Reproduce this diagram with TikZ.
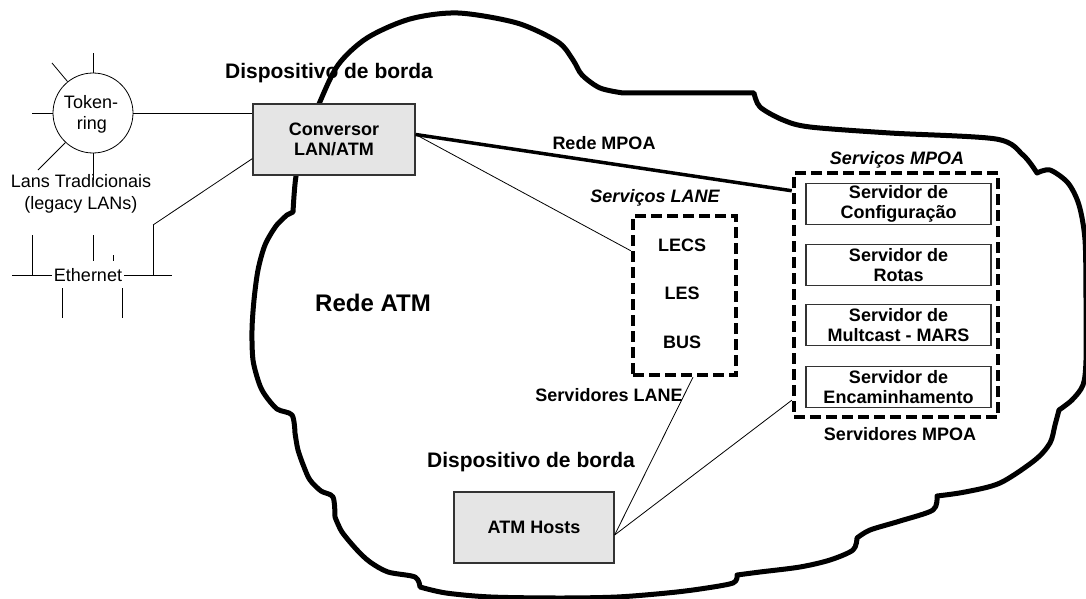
\documentclass[tikz,border=0pt]{standalone}
\usepackage{fontspec}
\setmainfont{Liberation Sans}
\usetikzlibrary{calc}
\begin{document}
\begin{tikzpicture}[x=1pt,y=-1pt,
  txt/.style={font=\fontsize{18}{22}\selectfont, inner sep=0pt, align=center},
  btxt/.style={font=\bfseries\fontsize{18}{20}\selectfont, inner sep=0pt, align=center},
  itxt/.style={font=\bfseries\itshape\fontsize{18}{20}\selectfont, inner sep=0pt},
  bigtxt/.style={font=\bfseries\fontsize{21}{24}\selectfont, inner sep=0pt},
  graybox/.style={draw=black!80, fill=black!10, line width=1.2pt, inner sep=0pt,
    font=\bfseries\fontsize{18}{20}\selectfont, align=center},
  srvbox/.style={draw=black!80, fill=white, line width=1.2pt, inner sep=0pt,
    minimum width=185pt, minimum height=41pt,
    font=\bfseries\fontsize{18}{20}\selectfont, align=center},
  dbox/.style={draw, line width=4.5pt, dash pattern=on 11pt off 5pt, inner sep=0pt},
  thin/.style={line width=0.8pt},
  cloudline/.style={line width=5pt, line join=round}]
\useasboundingbox (0,0) rectangle (1086,599);
\fill[white] (0,0) rectangle (1086,599);

% ATM cloud
\draw[cloudline]
  plot[smooth] coordinates {(293,212) (296,176) (305,140) (319,104) (338,65) (367,38) (410,19) (458,13) (517,23) (558,42) (573,60) (582,75) (600,88) (623,93)}
  -- (754,93)
  -- plot[smooth] coordinates {(754,93) (760,107) (783,120) (810,127) (890,133) (996,139) (1023,155) (1037,173)}
  -- plot[smooth] coordinates {(1037,173) (1050,170) (1068,183) (1079,205) (1085,240) (1086,300) (1086,360) (1083,385) (1072,400) (1059,410)}
  -- plot[smooth] coordinates {(1059,410) (1055,425) (1050,443) (1035,460) (1000,483) (965,492) (937,496)}
  -- plot[smooth] coordinates {(937,496) (933,510) (900,521) (870,530) (857,538)}
  -- plot[smooth] coordinates {(857,538) (853,550) (830,560) (800,567) (760,572) (737,575)}
  -- plot[smooth] coordinates {(737,575) (733,583) (700,589) (667,593) (617,597) (560,598) (491,597) (446,593) (420,587)}
  -- plot[smooth] coordinates {(420,587) (415,577) (388,572) (370,562) (357,550) (342,532) (335,517)}
  -- plot[smooth] coordinates {(335,517) (333,497) (321,491) (310,480) (304,467) (298,450) (295,433)}
  -- plot[smooth] coordinates {(295,433) (292,415) (277,409) (265,395) (259,383) (253,360) (252,330) (254,300) (258,270) (265,245) (276,226) (287,215)}
  -- cycle;

% boxes
\node[graybox, minimum width=162pt, minimum height=71pt] (conv) at (334,139.5) {Conversor\\LAN/ATM};
\node[graybox, minimum width=160pt, minimum height=71pt] (atm) at (534,527.5) {ATM Hosts};
\node[dbox, minimum width=103pt, minimum height=159pt] (lane) at (684.5,295.5) {};
\node[dbox, minimum width=204pt, minimum height=244pt] (mpoa) at (896,295) {};
\node[srvbox] (s1) at (898.5,204) {Servidor de\\Configuração};
\node[srvbox] (s2) at (898.5,265) {Servidor de\\Rotas};
\node[srvbox] (s3) at (898.5,325) {Servidor de\\Multcast - MARS};
\node[srvbox] (s4) at (898.5,387) {Servidor de\\Encaminhamento};

% LANE contents
\node[btxt] (lecs) at (682,245) {LECS};
\node[btxt] (les) at (682,293) {LES};
\node[btxt] (bus) at (682,342) {BUS};

% labels
\node[bigtxt] (disp1) at (329,73) {Dispositivo de borda};
\node[bigtxt] (disp2) at (531,462) {Dispositivo de borda};
\node[font=\bfseries\fontsize{24}{28}\selectfont, inner sep=0pt] (redeatm) at (373,303) {Rede ATM};
\node[btxt] (redempoa) at (604,143) {Rede MPOA};
\node[itxt] (servlane) at (655,198) {Serviços LANE};
\node[itxt] (servmpoa) at (897,160) {Serviços MPOA};
\node[btxt] (srvlane) at (609,395) {Servidores LANE};
\node[btxt] (srvmpoa) at (900,434) {Servidores MPOA};

% token ring
\node[draw, thin, circle, minimum size=80pt, inner sep=0pt, txt] (tr) at (93,113) {};
\node[txt] (tok) at (91,102) {Token-};
\node[txt] (ring) at (92,125) {ring};
\coordinate (sp1) at (93,53);
\coordinate (sp2) at (52,63);
\coordinate (sp3) at (32,113);
\coordinate (sp4) at (38,170);
\coordinate (sp5) at (93,180);
\draw[thin] (tr.north) -- (sp1);
\draw[thin] (tr.129) -- (sp2);
\draw[thin] (tr.west) -- (sp3);
\draw[thin] (tr.227) -- (sp4);
\draw[thin] (tr.south) -- (sp5);
\node[txt] (lans) at (81,194) {Lans Tradicionais\\(legacy LANs)};

% ethernet
\node[txt, inner xsep=2pt] (eth) at (88,275) {Ethernet};
\coordinate (e0) at (12,275);
\coordinate (e1) at (172,275);
\coordinate (riser) at (153,225);
\draw[thin] (e0) -- (eth.west);
\draw[thin] (eth.east) -- (e1);
\draw[thin] (32,235) -- (32,275);
\draw[thin] (93,235) -- (93,261);
\draw[thin] (113,255) -- (113,261);
\draw[thin] (153,275) -- (riser);
\draw[thin] (62,288) -- (62,318);
\draw[thin] (122,288) -- (122,318);

% connectors
\draw[thin] (tr.east) -- (tr.east -| conv.west);
\draw[thin] (riser) -- ($(conv.south west)+(0,-17)$);
\draw[line width=3.5pt] ($(conv.east)+(0,-5)$) -- ($(mpoa.north west)+(0,20)$);
\draw[thin] ($(conv.east)+(0,-5)$) -- ($(lane.north west)+(0,37)$);
\draw[thin] ($(lane.south)+(8.5,0)$) -- ($(atm.east)+(0,7.5)$);
\draw[thin] ($(mpoa.south west)+(0,-19)$) -- ($(atm.east)+(0,7.5)$);
\end{tikzpicture}
\end{document}
